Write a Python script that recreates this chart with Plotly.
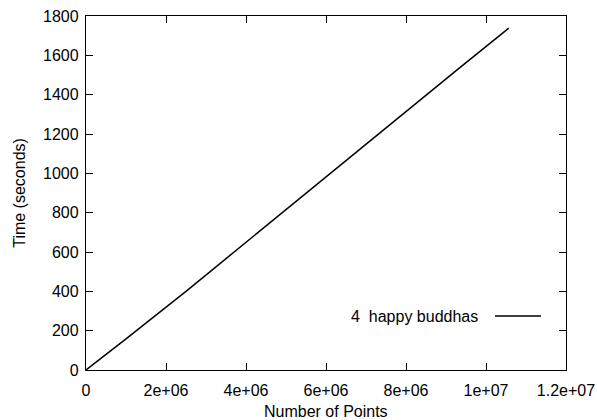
import plotly.graph_objects as go

# Runtime measurements
num_points = [0, 1.0e6, 2.5e6, 4.0e6, 5.33e6, 6.5e6, 8.08e6, 9.3e6, 10.57e6]
time_seconds = [0, 158, 400, 650, 872, 1066, 1330, 1530, 1738]
series_name = "4  happy buddhas"

x_ticks = [0, 2e6, 4e6, 6e6, 8e6, 1e7, 1.2e7]
x_tick_text = ["0", "2e+06", "4e+06", "6e+06", "8e+06", "1e+07", "1.2e+07"]
y_ticks = [0, 200, 400, 600, 800, 1000, 1200, 1400, 1600, 1800]

FONT = "Liberation Sans, Arial, Helvetica, sans-serif"
FS = 16

fig = go.Figure()
fig.add_trace(go.Scatter(
    x=num_points, y=time_seconds, mode="lines",
    line=dict(color="black", width=1.5),
    name=series_name, showlegend=False,
))

axis_common = dict(
    showline=True, linecolor="black", linewidth=1.3, mirror="ticks",
    ticks="inside", ticklen=7, tickwidth=1, tickcolor="black",
    showgrid=False, zeroline=False, automargin=False,
    tickfont=dict(family=FONT, size=FS, color="black"),
)

fig.update_layout(
    width=597, height=420,
    margin=dict(l=86, r=31, t=16, b=50, autoexpand=False),
    paper_bgcolor="white", plot_bgcolor="white",
    font=dict(family=FONT, size=FS, color="black"),
    xaxis=dict(range=[0, 1.2e7], tickvals=x_ticks, ticktext=x_tick_text,
               ticklabelstandoff=6, **axis_common),
    yaxis=dict(range=[0, 1800], tickvals=y_ticks,
               ticklabelstandoff=3, **axis_common),
    annotations=[
        dict(text="Number of Points", xref="paper", yref="paper",
             x=0.5, y=-0.118, xanchor="center", yanchor="middle",
             showarrow=False, font=dict(size=FS)),
        dict(text="Time (seconds)", xref="paper", yref="paper",
             x=-0.14, y=0.5, xanchor="center", yanchor="middle",
             textangle=-90, showarrow=False, font=dict(size=FS)),
        # legend text, placed to the left of its line sample
        dict(text=series_name, xref="paper", yref="paper",
             x=(480 - 86) / 480, y=(370 - 316) / 354,
             xanchor="right", yanchor="middle",
             showarrow=False, font=dict(size=FS)),
    ],
    shapes=[
        dict(type="line", xref="paper", yref="paper",
             x0=(495 - 86) / 480, x1=(541 - 86) / 480,
             y0=(370 - 316) / 354, y1=(370 - 316) / 354,
             line=dict(color="black", width=1.3)),
    ],
)

fig.write_html("out.html")
